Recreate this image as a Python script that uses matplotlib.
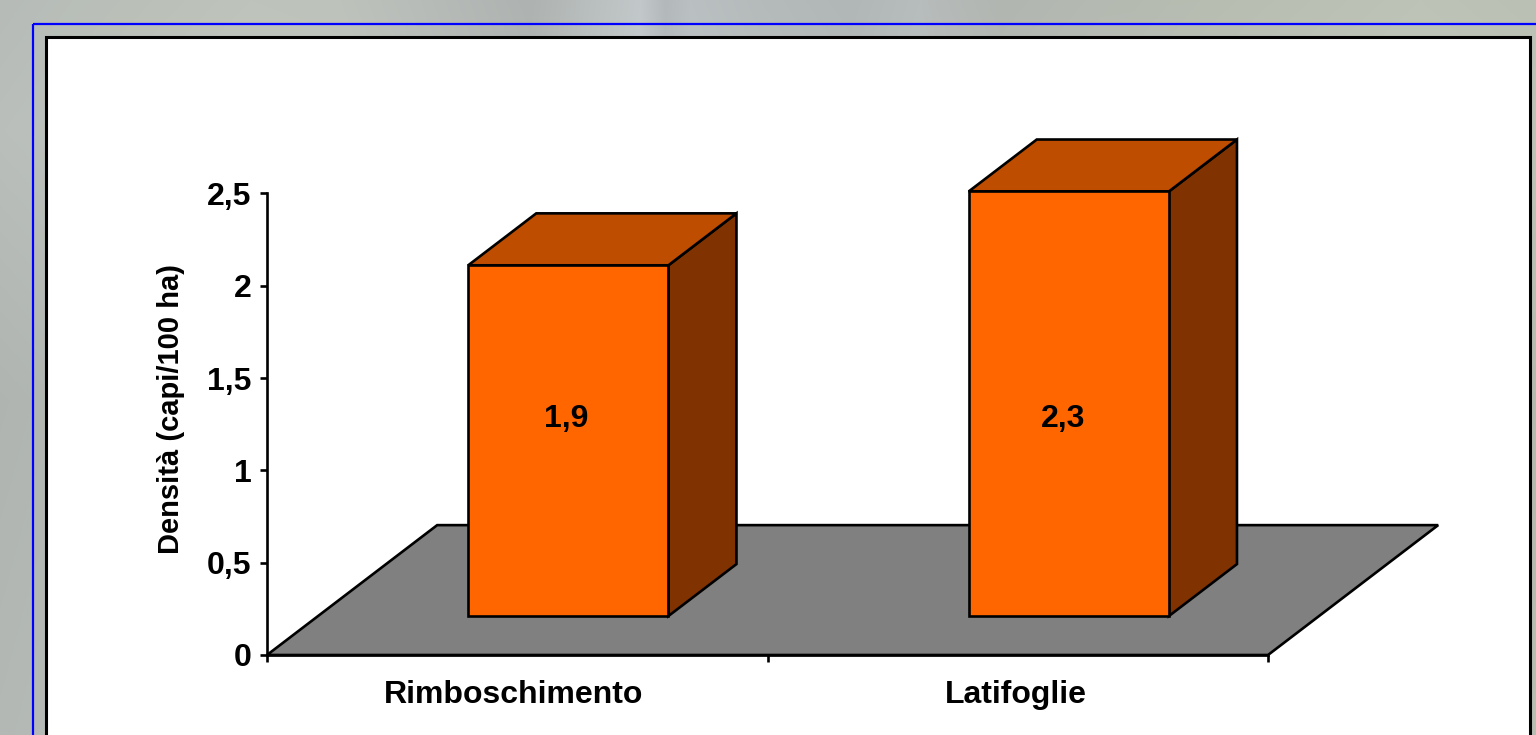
import matplotlib
matplotlib.use('Agg')
import matplotlib.pyplot as plt
import numpy as np
from matplotlib.colors import to_rgb
from matplotlib.patches import Polygon, Rectangle

plt.rcParams['font.family'] = ['Liberation Sans', 'DejaVu Sans']
plt.rcParams['font.weight'] = 'bold'

# data
categories = ['Rimboschimento', 'Latifoglie']
values = [1.9, 2.3]
value_labels = ['1,9', '2,3']
y_ticks = [0, 0.5, 1, 1.5, 2, 2.5]
y_tick_labels = ['0', '0,5', '1', '1,5', '2', '2,5']
y_label = 'Densità (capi/100 ha)'

# slide background, colour stops across the width and a brightness change down
bg_x = [0, 120, 250, 340, 420, 530, 640, 665, 690, 760, 850, 920, 1000, 1200, 1420, 1536]
bg_colors = ['#b6bbb8', '#bac0b8', '#bec3bb', '#bdc2bb', '#b7bcb9', '#aeb3b1', '#c2c7c9', '#b3b8ba',
             '#babfc1', '#b5babb', '#b1b6b7', '#b7bcbc', '#b1b6b1', '#b8bdb2', '#bec3b7', '#bbc0b4']
bg_y = [0, 130, 400, 735]
bg_shift = [0.0, 0.015, -0.025, -0.01]

W, H = 1536, 735
fig = plt.figure(figsize=(W / 100, H / 100), dpi=100)

bg = fig.add_axes([0, 0, 1, 1])
bg.set_xlim(0, W)
bg.set_ylim(H, 0)
bg.axis('off')
rgb = np.array([to_rgb(c) for c in bg_colors])
row = np.column_stack([np.interp(np.arange(W), bg_x, rgb[:, i]) for i in range(3)])
shift = np.interp(np.arange(H), bg_y, bg_shift)
img = np.clip(row[None, :, :] + shift[:, None, None], 0, 1)
bg.imshow(img, extent=(0, W, H, 0), aspect='auto', interpolation='bilinear')

# blue outer frame and white chart area, both run off the slide
bg.add_patch(Rectangle((32.5, 23.5), W, H, fill=False, edgecolor='#0000ff', linewidth=1.6))
bg.add_patch(Rectangle((45.5, 37), 1484.5, H, facecolor='white', edgecolor='black', linewidth=2.2))
bg.set_xlim(0, W)
bg.set_ylim(H, 0)

# plot area in pixels
left, right, top, bottom = 267, 1268, 193.5, 655
ax = fig.add_axes([left / W, 1 - bottom / H, (right - left) / W, (bottom - top) / H])
ax.patch.set_alpha(0)
ax.set_xlim(0, 2)
ax.set_ylim(0, 2.5)

LW = 1.9
DEPTH_X = 0.34
DEPTH_Y = 0.7035
GAP = 0.3
BAR_W = 0.4
LABEL_Y = 1.277
LABEL_DX = [-0.004, -0.012]


def project(x, y, d):
    # oblique projection, d is 0 at the front of the floor and 1 at the back
    return (x + d * DEPTH_X, y + d * DEPTH_Y)


def face(points, color, zorder):
    ax.add_patch(Polygon(points, closed=True, facecolor=color, edgecolor='black',
                         linewidth=LW, joinstyle='miter', clip_on=False, zorder=zorder))


# floor
face([project(0, 0, 0), project(2, 0, 0), project(2, 0, 1), project(0, 0, 1)], '#808080', 2)

# bars
for i, v in enumerate(values):
    x0 = i + GAP
    x1 = x0 + BAR_W
    d0, d1 = 0.3, 0.7
    face([project(x1, 0, d0), project(x1, 0, d1), project(x1, v, d1), project(x1, v, d0)], '#803300', 3)
    face([project(x0, v, d0), project(x1, v, d0), project(x1, v, d1), project(x0, v, d1)], '#bf4d00', 3)
    face([project(x0, 0, d0), project(x1, 0, d0), project(x1, v, d0), project(x0, v, d0)], '#ff6600', 4)
    ax.text(x0 + BAR_W / 2 + d0 * DEPTH_X + LABEL_DX[i], LABEL_Y, value_labels[i], ha='center', va='center',
            fontsize=23, fontweight='bold', color='black', zorder=5)

for s in ['top', 'right']:
    ax.spines[s].set_visible(False)
for s in ['left', 'bottom']:
    ax.spines[s].set_linewidth(LW)
    ax.spines[s].set_zorder(6)

ax.set_yticks(y_ticks)
ax.set_yticklabels(y_tick_labels, fontsize=23, fontweight='bold')
ax.set_xticks([0, 1, 2])
ax.set_xticklabels([])
ax.set_xticks([0.493, 1.497], minor=True)
ax.set_xticklabels(categories, minor=True, fontsize=23, fontweight='bold')
ax.tick_params(axis='both', which='major', length=5, width=LW, pad=6)
ax.tick_params(axis='x', which='minor', length=0, pad=18)
ax.set_ylabel(y_label, fontsize=21, fontweight='bold', va='center')
ax.yaxis.set_label_coords(-0.096, 0.533)

fig.savefig('out.png', dpi=100)
